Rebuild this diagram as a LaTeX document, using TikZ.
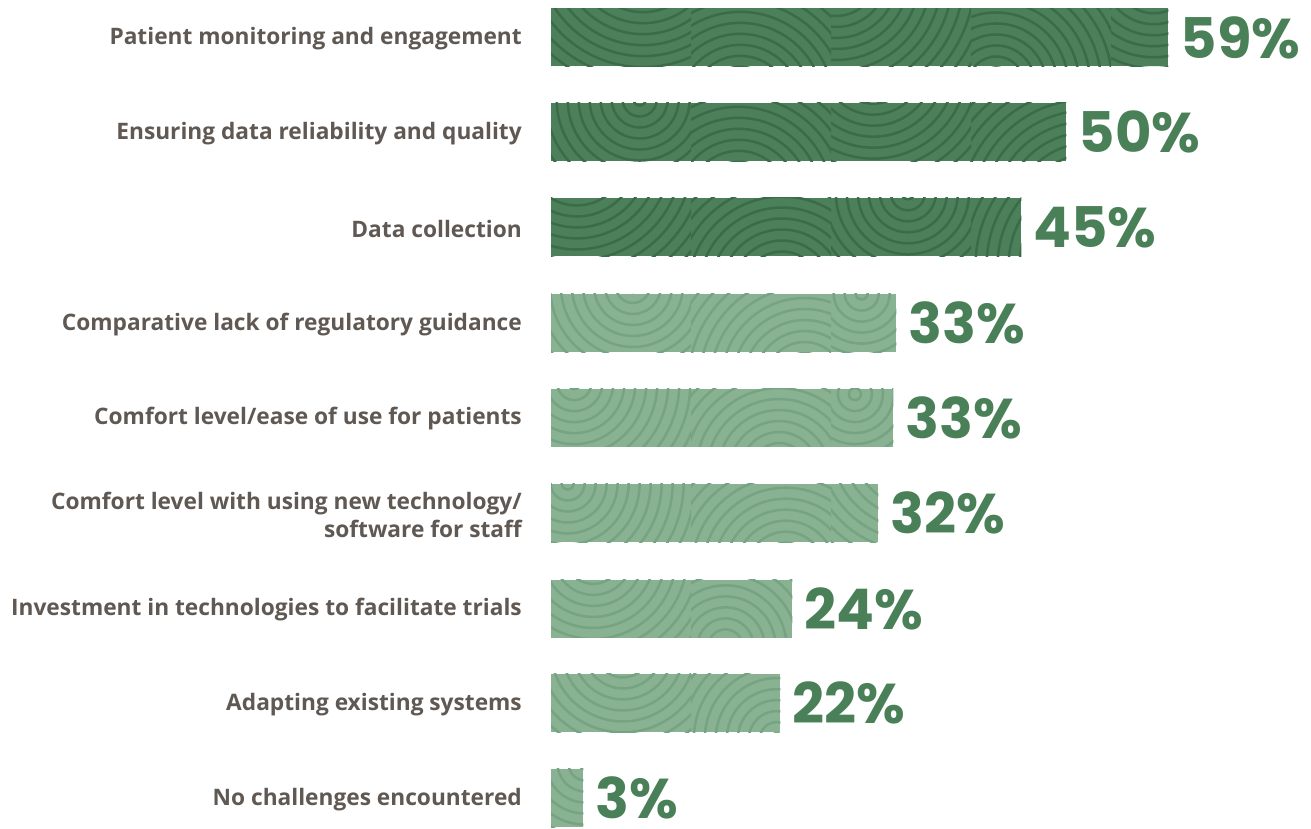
\documentclass[tikz,border=0pt]{standalone}
\usepackage{fontspec}
\setmainfont{Open Sans}
\newfontfamily\pctfont{Poppins}
\usetikzlibrary{positioning,calc}

\definecolor{barDark}{HTML}{4C805A}
\definecolor{grainDark}{HTML}{3B6B48}
\definecolor{barLight}{HTML}{89B292}
\definecolor{grainLight}{HTML}{76A381}
\definecolor{pctGreen}{HTML}{4A8058}
\definecolor{labelGrey}{HTML}{5F5853}

% wood grain rings, one ring family per slice of a bar
\newcommand{\woodgrain}[2]{%
  \foreach \k in {0,...,4}{
    \begin{scope}
      \clip (#1.south west) rectangle (#1.north east);
      \clip ($(#1.south west)+(140*\k,0)$) rectangle ($(#1.north west)+(140*\k+140,0)$);
      \pgfmathsetmacro{\ox}{140*\k+140*rnd}
      \pgfmathsetmacro{\oy}{(mod(\k,2)==0 ? -1 : 1)*(20+70*rnd)}
      \foreach \r in {6,17,...,230}
        \draw[#2, line width=2.5pt] ($(#1.west)+(\ox,\oy)$) circle[radius=\r pt];
    \end{scope}
  }}

\begin{document}
\begin{tikzpicture}[
  x=1pt, y=-1pt,
  bar/.style={rectangle, inner sep=0pt, minimum height=58pt, anchor=west},
  darkbar/.style={bar, fill=barDark},
  lightbar/.style={bar, fill=barLight},
  lbl/.style={align=right, inner sep=0pt, yshift=-1.5pt, text=labelGrey, font=\bfseries\fontsize{22.7}{28}\selectfont},
  pct/.style={inner sep=0pt, text=pctGreen, font=\pctfont\bfseries\fontsize{56}{56}\selectfont}
]
\useasboundingbox (0,0) rectangle (1311,829);
\pgfmathsetseed{11}

% bars
\node[darkbar, minimum width=617pt] (b1) at (551,37.5) {};
\node[darkbar, minimum width=515pt] (b2) at (551,132) {};
\node[darkbar, minimum width=470pt] (b3) at (551,227) {};
\node[lightbar, minimum width=345pt] (b4) at (551,323) {};
\node[lightbar, minimum width=342pt] (b5) at (551,417.5) {};
\node[lightbar, minimum width=327pt] (b6) at (551,513) {};
\node[lightbar, minimum width=241pt] (b7) at (551,608.5) {};
\node[lightbar, minimum width=229pt] (b8) at (551,703) {};
\node[lightbar, minimum width=32pt] (b9) at (551,798) {};

% grain
\woodgrain{b1}{grainDark}
\woodgrain{b2}{grainDark}
\woodgrain{b3}{grainDark}
\woodgrain{b4}{grainLight}
\woodgrain{b5}{grainLight}
\woodgrain{b6}{grainLight}
\woodgrain{b7}{grainLight}
\woodgrain{b8}{grainLight}
\woodgrain{b9}{grainLight}

% labels
\node[lbl, left=29pt of b1] (l1) {Patient monitoring and engagement};
\node[lbl, left=29pt of b2] (l2) {Ensuring data reliability and quality};
\node[lbl, left=29pt of b3] (l3) {Data collection};
\node[lbl, left=29pt of b4] (l4) {Comparative lack of regulatory guidance};
\node[lbl, left=29pt of b5] (l5) {Comfort level/ease of use for patients};
\node[lbl, left=29pt of b6] (l6) {Comfort level with using new technology/\\software for staff};
\node[lbl, left=29pt of b7] (l7) {Investment in technologies to facilitate trials};
\node[lbl, left=29pt of b8] (l8) {Adapting existing systems};
\node[lbl, left=29pt of b9] (l9) {No challenges encountered};

% percentages
\node[pct, right=12pt of b1] (p1) {59\%};
\node[pct, right=12pt of b2] (p2) {50\%};
\node[pct, right=12pt of b3] (p3) {45\%};
\node[pct, right=12pt of b4] (p4) {33\%};
\node[pct, right=12pt of b5] (p5) {33\%};
\node[pct, right=12pt of b6] (p6) {32\%};
\node[pct, right=12pt of b7] (p7) {24\%};
\node[pct, right=12pt of b8] (p8) {22\%};
\node[pct, right=12pt of b9] (p9) {3\%};
\end{tikzpicture}
\end{document}
